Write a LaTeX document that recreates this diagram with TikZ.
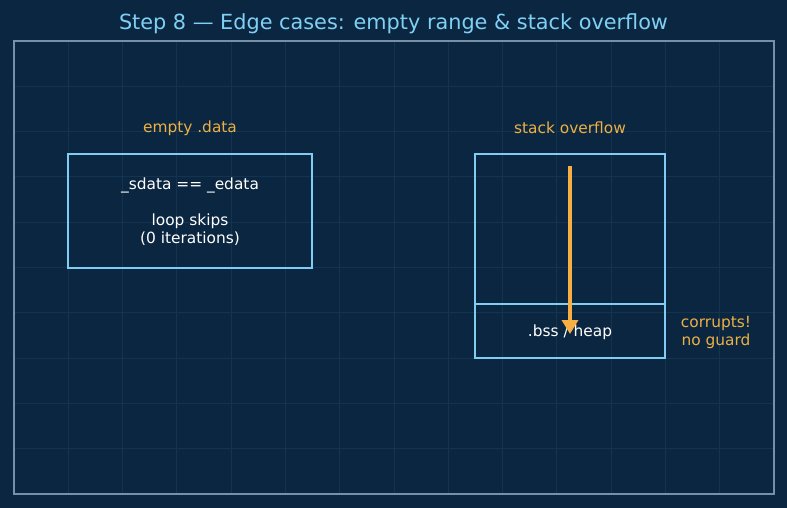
\documentclass[tikz,border=0pt]{standalone}
\usepackage{fontspec}
\setmainfont{DejaVu Sans}
\usetikzlibrary{arrows.meta}
\definecolor{bg}{HTML}{0B2640}
\definecolor{gridc}{HTML}{13334E}
\definecolor{framec}{HTML}{7590A8}
\definecolor{boxc}{HTML}{7FCDF3}
\definecolor{titlec}{HTML}{7FD0F5}
\definecolor{orangec}{HTML}{F7AE42}
\definecolor{labelc}{HTML}{EDB044}
\tikzset{
  memboxline/.style={draw=boxc, line width=2.2pt},
  lbl/.style={text=labelc, font=\fontsize{15.4}{18}\selectfont, align=center},
  boxtxt/.style={text=white, font=\fontsize{15.4}{18}\selectfont, align=center},
  growarrow/.style={draw=orangec, line width=3.4pt, -{Triangle[width=16pt,length=14pt]}}
}
\begin{document}
\begin{tikzpicture}[x=1pt,y=-1pt]
\useasboundingbox (0,0) rectangle (787,508);
\fill[bg] (0,0) rectangle (787,508);
% grid
\foreach \i in {1,...,13} {
  \draw[gridc, line width=1pt] ({14+\i*760/14},41) -- ({14+\i*760/14},494);
}
\foreach \j in {1,...,9} {
  \draw[gridc, line width=1pt] (14,{41+\j*45.3}) -- (774,{41+\j*45.3});
}
\draw[framec, line width=1.6pt] (14,41) rectangle (774,494);
% title
\node[text=titlec, font=\fontsize{20.8}{24}\selectfont] (title) at (393.5,23.5) {Step 8 — Edge cases: empty range \& stack overflow};
% left
\node[lbl] (lefthead) at (190,128) {empty .data};
\draw[memboxline] (68,154) rectangle (312,268);
\node[boxtxt] (eq) at (190,185.5) {\_sdata == \_edata};
\node[boxtxt] (loop) at (190,229.5) {loop skips\\(0 iterations)};
% right
\node[lbl] (righthead) at (570,128) {stack overflow};
\draw[memboxline] (475,154) rectangle (665,358);
\draw[memboxline] (475,304) -- (665,304);
\node[boxtxt] (bss) at (570,332) {.bss / heap};
\coordinate (stacktop) at (570,166);
\coordinate (stackend) at (570,334);
\draw[growarrow] (stacktop) -- (stackend);
\node[lbl] (corrupt) at (716,332) {corrupts!\\no guard};
\end{tikzpicture}
\end{document}
